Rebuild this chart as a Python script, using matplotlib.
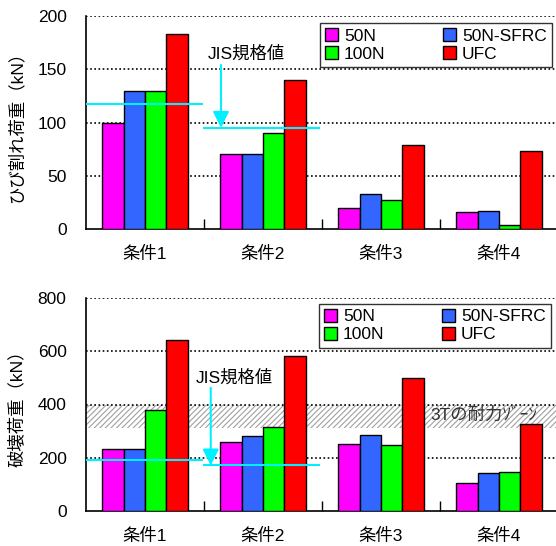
import matplotlib
matplotlib.use("Agg")
import matplotlib.pyplot as plt
import numpy as np

plt.rcParams['font.family'] = ['Liberation Sans', 'Noto Sans CJK JP', 'DejaVu Sans']
plt.rcParams['hatch.linewidth'] = 0.8

categories = ["条件1", "条件2", "条件3", "条件4"]
series = ["50N", "50N-SFRC", "100N", "UFC"]
colors = ["#FF00FF", "#3366FF", "#00FF00", "#FF0000"]

crack_50N = [100, 70, 20, 16]
crack_50NSFRC = [130, 70, 33, 17]
crack_100N = [130, 90, 27, 3.5]
crack_UFC = [183, 140, 79, 73]

fail_50N = [231, 261, 250, 105]
fail_50NSFRC = [231, 280, 284, 144]
fail_100N = [378, 314, 249, 148]
fail_UFC = [643, 581, 498, 327]

jis_crack = [117, 95]
jis_fail = [190, 171]
zone_3T = [310, 400]

CYAN = "#00F0FF"

fig = plt.figure(figsize=(5.56, 5.46), dpi=100)
W = 556.0; H = 546.0
axw = 472 / W
axh = 213 / H
ax1 = fig.add_axes([86 / W, 1 - 229 / H, axw, axh])
ax2 = fig.add_axes([86 / W, 1 - 511 / H, axw, axh])

bw = 0.182
x = np.arange(len(categories))


def draw(ax, data, ymax, step, ylabel, jis, arrow_x, arrow_y0, text_xy, leg_anchor):
    handles = []
    for i, (vals, c) in enumerate(zip(data, colors)):
        b = ax.bar(x + (i - 1.5) * bw, vals, bw, color=c, edgecolor='black',
                   linewidth=1.0, zorder=3, label=series[i])
        handles.append(b)
    ax.set_xlim(-0.5, 3.5)
    ax.set_ylim(0, ymax)
    ax.set_yticks(np.arange(0, ymax + 1, step))
    for yv in np.arange(step, ymax + 1, step):
        ax.axhline(yv, color='black', lw=1.2, ls=(0, (1, 1.5)), zorder=2)
    for s in ['top', 'right']:
        ax.spines[s].set_visible(False)
    ax.spines['left'].set_linewidth(1.2)
    ax.spines['bottom'].set_linewidth(1.2)
    ax.tick_params(axis='y', length=0, labelsize=12.5, pad=14)
    ax.set_xticks(x)
    ax.set_xticklabels(categories, fontsize=12.5)
    ax.tick_params(axis='x', which='major', length=0, pad=12.5)
    ax.set_xticks([0.5, 1.5, 2.5], minor=True)
    ax.tick_params(axis='x', which='minor', direction='in', length=7, width=1.0)
    ax.set_ylabel(ylabel, fontsize=12.5)
    ax.yaxis.set_label_coords(-0.13, 0.5)
    # JIS lines
    ax.hlines(jis[0], -0.5, 0.49, color=CYAN, lw=1.5, zorder=5)
    ax.hlines(jis[1], 0.49, 1.48, color=CYAN, lw=1.5, zorder=5)
    ax.annotate("", xy=(arrow_x, jis[1]), xytext=(arrow_x, arrow_y0),
                arrowprops=dict(arrowstyle='-|>,head_length=0.7,head_width=0.35',
                                color=CYAN, lw=1.5, shrinkA=0, shrinkB=0,
                                mutation_scale=14), zorder=6)
    ax.text(text_xy[0], text_xy[1], "JIS規格値", fontsize=12.5, ha='left', va='center', zorder=6)
    order = [0, 2, 1, 3]
    leg = ax.legend([handles[k] for k in order], [series[k] for k in order],
                    ncol=2, loc='upper right', bbox_to_anchor=leg_anchor,
                    fontsize=12.5, frameon=True, fancybox=False, edgecolor='black',
                    handlelength=0.75, handleheight=0.75, handletextpad=0.35,
                    columnspacing=3.3, labelspacing=0.15, borderpad=0.3,
                    borderaxespad=0)
    leg.get_frame().set_linewidth(1.0)
    leg.set_zorder(10)


draw(ax1, [crack_50N, crack_50NSFRC, crack_100N, crack_UFC], 200, 50,
     "ひび割れ荷重（kN）", jis_crack, 0.644, 154, (0.534, 165), (0.987, 0.967))

ax2.axhspan(zone_3T[0], zone_3T[1], facecolor='white', edgecolor='#A0A0A0',
            hatch='//////', linewidth=0, zorder=1)
ax2.text(2.415, 360, "3Tの耐力ｿﾞｰﾝ", fontsize=12.5, ha='left', va='center',
         color='#333333', zorder=4)
draw(ax2, [fail_50N, fail_50NSFRC, fail_100N, fail_UFC], 800, 200,
     "破壊荷重（kN）", jis_fail, 0.557, 463, (0.432, 500), (0.985, 0.973))

fig.savefig("out.png", dpi=100)
